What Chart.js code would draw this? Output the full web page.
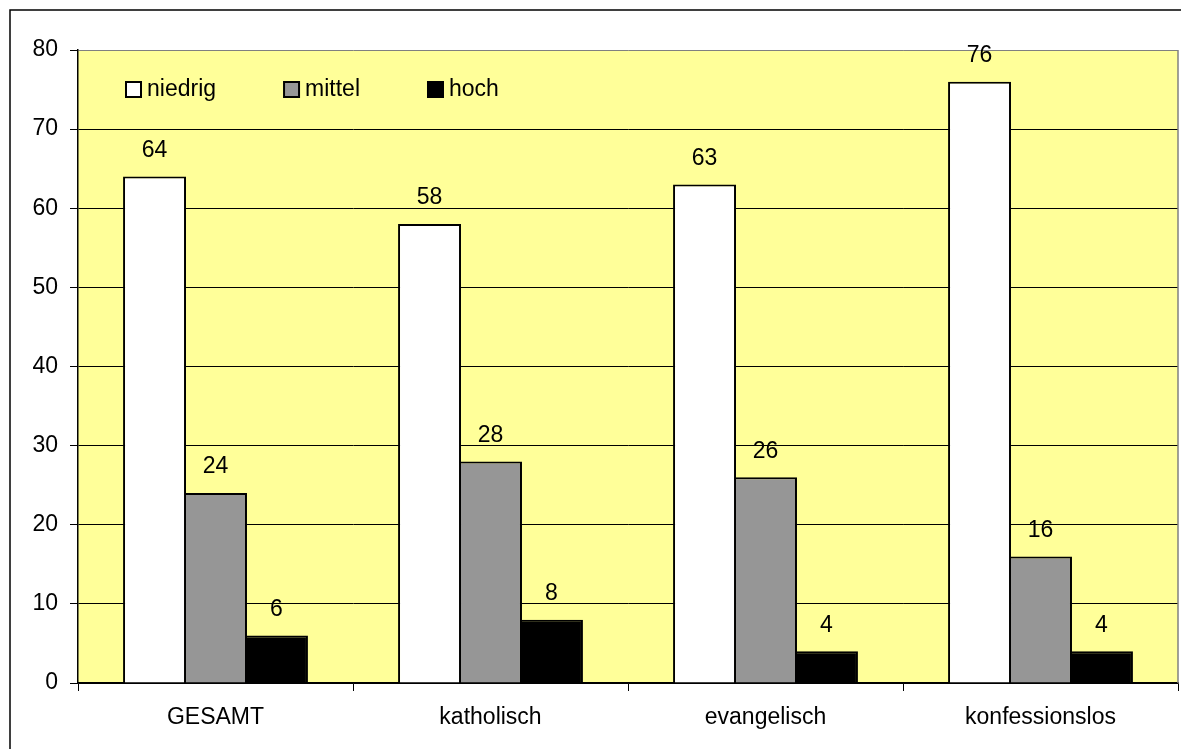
<!DOCTYPE html>
<html lang="de">
<head>
<meta charset="utf-8">
<script src="https://cdn.jsdelivr.net/npm/chart.js"></script>
<title>Bildungsniveau nach Konfession</title>
<style>
  body { margin: 0; background: #fff; }
  #wrap { width: 1181px; height: 749px; }
</style>
</head>
<body>
<div id="wrap"><canvas id="myChart"></canvas></div>
<script>
const labels = ['GESAMT', 'katholisch', 'evangelisch', 'konfessionslos'];
const niedrig = [64, 58, 63, 76];
const mittel = [24, 28, 26, 16];
const hoch = [6, 8, 4, 4];
const yMax = 80;
const yStep = 10;

const FONT = 'Liberation Sans, Arial, sans-serif';
const SIZE = 23;

// white page, outer frame and yellow plot background
const frame = {
  id: 'frame',
  beforeDraw(chart) {
    const { ctx, chartArea: a } = chart;
    ctx.save();
    ctx.fillStyle = '#fff';
    ctx.fillRect(0, 0, chart.width, chart.height);
    ctx.strokeStyle = '#000';
    ctx.lineWidth = 1.5;
    ctx.strokeRect(10, 10, chart.width + 40, chart.height + 40);
    ctx.fillStyle = '#FFFF99';
    ctx.fillRect(a.left, a.top, a.right - a.left, a.bottom - a.top);
    ctx.restore();
  },
  afterDraw(chart) {
    const { ctx, chartArea: a } = chart;
    ctx.save();
    ctx.strokeStyle = '#808080';
    ctx.lineWidth = 1.5;
    ctx.beginPath();
    ctx.moveTo(a.right, a.top);
    ctx.lineTo(a.right, a.bottom);
    ctx.stroke();
    ctx.restore();
  }
};

// value above each bar
const valueLabels = {
  id: 'valueLabels',
  afterDatasetsDraw(chart) {
    const ctx = chart.ctx;
    ctx.save();
    ctx.font = SIZE + 'px ' + FONT;
    ctx.fillStyle = '#000';
    ctx.textAlign = 'center';
    ctx.textBaseline = 'middle';
    chart.data.datasets.forEach((ds, i) => {
      chart.getDatasetMeta(i).data.forEach((bar, j) => {
        ctx.fillText(String(ds.data[j]), bar.x, bar.y - 26);
      });
    });
    ctx.restore();
  }
};

// legend inside the plot, top left
const innerLegend = {
  id: 'innerLegend',
  afterDraw(chart) {
    const { ctx, chartArea: a } = chart;
    ctx.save();
    ctx.font = SIZE + 'px ' + FONT;
    ctx.textBaseline = 'middle';
    ctx.textAlign = 'left';
    let x = a.left + 48;
    const y = a.top + 39;
    chart.data.datasets.forEach(ds => {
      ctx.fillStyle = ds.backgroundColor;
      ctx.fillRect(x, y - 7, 15, 15);
      ctx.strokeStyle = '#000';
      ctx.lineWidth = 2;
      ctx.strokeRect(x, y - 7, 15, 15);
      ctx.fillStyle = '#000';
      ctx.fillText(ds.label, x + 21, y + 1);
      x += 21 + ctx.measureText(ds.label).width + 68;
    });
    ctx.restore();
  }
};

const barStyle = {
  borderColor: '#000',
  borderWidth: 2,
  barPercentage: 1.033,
  categoryPercentage: 0.665
};

new Chart(document.getElementById('myChart'), {
  type: 'bar',
  data: {
    labels: labels,
    datasets: [
      { label: 'niedrig', data: niedrig, backgroundColor: '#FFFFFF', ...barStyle },
      { label: 'mittel', data: mittel, backgroundColor: '#969696', ...barStyle },
      { label: 'hoch', data: hoch, backgroundColor: '#000000', ...barStyle }
    ]
  },
  options: {
    responsive: true,
    maintainAspectRatio: false,
    animation: false,
    layout: { padding: { top: 50, right: 3, left: 0, bottom: 0 } },
    plugins: {
      legend: { display: false },
      tooltip: { enabled: false }
    },
    scales: {
      x: {
        offset: true,
        afterFit: s => { s.height = 66; },
        grid: { offset: true, drawOnChartArea: false, color: '#000', tickLength: 8 },
        border: { color: '#000', width: 1.5 },
        ticks: { color: '#000', padding: 13, font: { family: FONT, size: SIZE } }
      },
      y: {
        min: 0,
        max: yMax,
        afterFit: s => { s.width = 78; },
        grid: {
          color: c => c.tick && c.tick.value === yMax ? '#808080' : '#000',
          tickColor: '#000',
          tickLength: 8,
          lineWidth: 1
        },
        border: { color: '#000', width: 1.5 },
        ticks: { stepSize: yStep, color: '#000', padding: 12, font: { family: FONT, size: SIZE } }
      }
    }
  },
  plugins: [frame, valueLabels, innerLegend]
});
</script>
</body>
</html>
